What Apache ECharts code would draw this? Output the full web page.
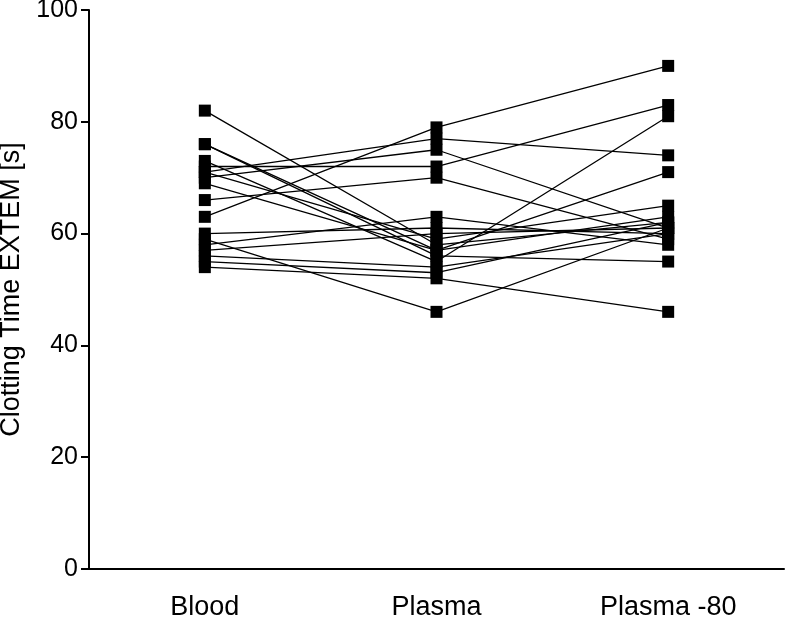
<!DOCTYPE html>
<html>
<head>
<meta charset="utf-8">
<script src="https://cdn.jsdelivr.net/npm/echarts@6/dist/echarts.min.js"></script>
<style>html,body{margin:0;padding:0;background:#fff}#c{width:786px;height:617px}</style>
</head>
<body>
<div id="c"></div>
<script>
const categories = ["Blood", "Plasma", "Plasma -80"];
const blood    = [63, 71, 70, 72, 66, 82, 76, 76, 73, 71, 69, 60, 59, 58, 56, 54, 57, 55];
const plasma   = [79, 77, 75, 72, 70, 58, 57, 56, 55, 59, 57, 61, 46, 63, 54, 52, 60, 53];
const plasma80 = [90, 74, 61, 83, 59, 62, 71, 55, 81, 65, 63, 60, 61, 58, 60, 46, 61, 62];
const yTicks = [0, 20, 40, 60, 80, 100];

const font = "'Liberation Sans', Arial, sans-serif";
const series = blood.map((b, i) => ({
  type: 'line',
  data: [b, plasma[i], plasma80[i]],
  symbol: 'rect',
  symbolSize: 12,
  itemStyle: { color: '#000' },
  lineStyle: { color: '#000', width: 1.3 },
  animation: false,
  z: 2
}));

const chart = echarts.init(document.getElementById('c'), null, { renderer: 'canvas' });
chart.setOption({
  backgroundColor: '#fff',
  animation: false,
  grid: { left: 89, right: 2, top: 10, bottom: 48, containLabel: false, outerBoundsMode: 'none' },
  xAxis: {
    type: 'category',
    data: categories,
    boundaryGap: true,
    axisLine: { lineStyle: { color: '#000', width: 2 } },
    axisTick: { alignWithLabel: true, length: 10, lineStyle: { color: '#000', width: 2 } },
    axisLabel: { color: '#000', fontSize: 27, fontFamily: font, margin: 25 },
    splitLine: { show: false }
  },
  yAxis: {
    type: 'value',
    min: yTicks[0], max: yTicks[yTicks.length - 1], interval: 20,
    name: 'Clotting Time EXTEM [s]',
    nameLocation: 'middle',
    nameGap: 54,
    nameTextStyle: { color: '#000', fontSize: 27, fontFamily: font },
    axisLine: { show: true, lineStyle: { color: '#000', width: 2 } },
    axisTick: { show: true, length: 8, lineStyle: { color: '#000', width: 2 } },
    axisLabel: { color: '#000', fontSize: 25, fontFamily: font, margin: 11 },
    splitLine: { show: false }
  },
  series: series
});
</script>
</body>
</html>
